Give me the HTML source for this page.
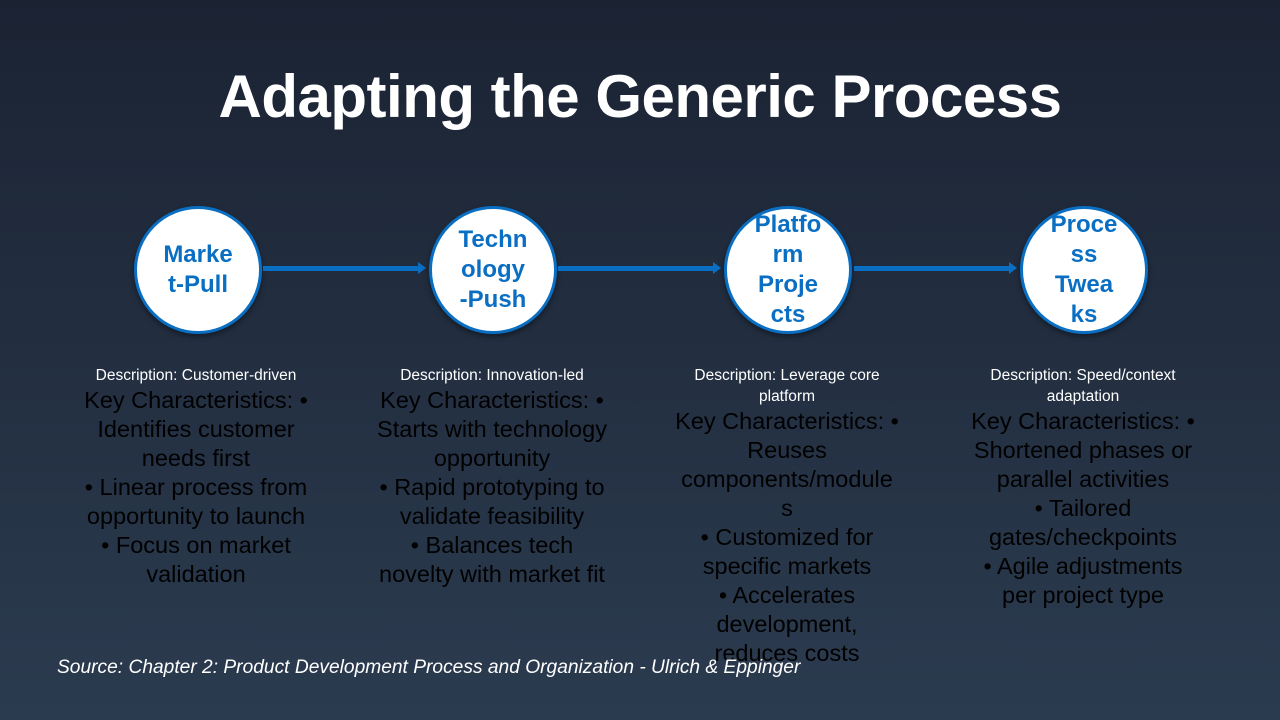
<!DOCTYPE html>
<html><head><style>
body{margin:0;width:1280px;height:720px;overflow:hidden;background:linear-gradient(180deg,#1b2333 0%,#2b3b4f 100%);font-family:"Liberation Sans",sans-serif;position:relative}
h1{position:absolute;top:62px;left:0;width:1280px;text-align:center;margin:0;color:#fff;font-size:60px;font-weight:bold;letter-spacing:-0.5px}
.c{position:absolute;top:206px;width:122px;height:122px;border-radius:50%;background:#fff;border:3px solid #0a6fc2;box-sizing:content-box;display:flex;align-items:center;justify-content:center;text-align:center;color:#0a6fc2;font-weight:bold;font-size:24px;line-height:30px;box-shadow:0 3px 6px rgba(0,0,0,.4)}
.a{position:absolute;top:266px;height:5px;background:#0a6fc2}
.a:after{content:"";position:absolute;right:-6px;top:-4px;border-left:8px solid #0a6fc2;border-top:6.5px solid transparent;border-bottom:6.5px solid transparent}
.t{position:absolute;top:365px;width:270px;text-align:center}
.d{color:#fff;font-size:15.5px;line-height:21px}
.k{color:#000;font-size:23.5px;line-height:29px}
.s{position:absolute;left:57px;top:657px;color:#fff;font-style:italic;font-size:19.2px}
</style></head><body>
<h1>Adapting the Generic Process</h1>
<div class="c" style="left:134px">Marke<br>t-Pull</div>
<div class="c" style="left:429px">Techn<br>ology<br>-Push</div>
<div class="c" style="left:724px">Platfo<br>rm<br>Proje<br>cts</div>
<div class="c" style="left:1020px">Proce<br>ss<br>Twea<br>ks</div>
<div class="a" style="left:263px;width:157px"></div>
<div class="a" style="left:558px;width:157px"></div>
<div class="a" style="left:854px;width:157px"></div>
<div class="t" style="left:61px"><div class="d">Description: Customer-driven</div><div class="k">Key Characteristics: •<br>Identifies customer<br>needs first<br>• Linear process from<br>opportunity to launch<br>• Focus on market<br>validation</div></div>
<div class="t" style="left:357px"><div class="d">Description: Innovation-led</div><div class="k">Key Characteristics: •<br>Starts with technology<br>opportunity<br>• Rapid prototyping to<br>validate feasibility<br>• Balances tech<br>novelty with market fit</div></div>
<div class="t" style="left:652px"><div class="d">Description: Leverage core<br>platform</div><div class="k">Key Characteristics: •<br>Reuses<br>components/module<br>s<br>• Customized for<br>specific markets<br>• Accelerates<br>development,<br>reduces costs</div></div>
<div class="t" style="left:948px"><div class="d">Description: Speed/context<br>adaptation</div><div class="k">Key Characteristics: •<br>Shortened phases or<br>parallel activities<br>• Tailored<br>gates/checkpoints<br>• Agile adjustments<br>per project type</div></div>
<div class="s">Source: Chapter 2: Product Development Process and Organization - Ulrich &amp; Eppinger</div>
</body></html>
